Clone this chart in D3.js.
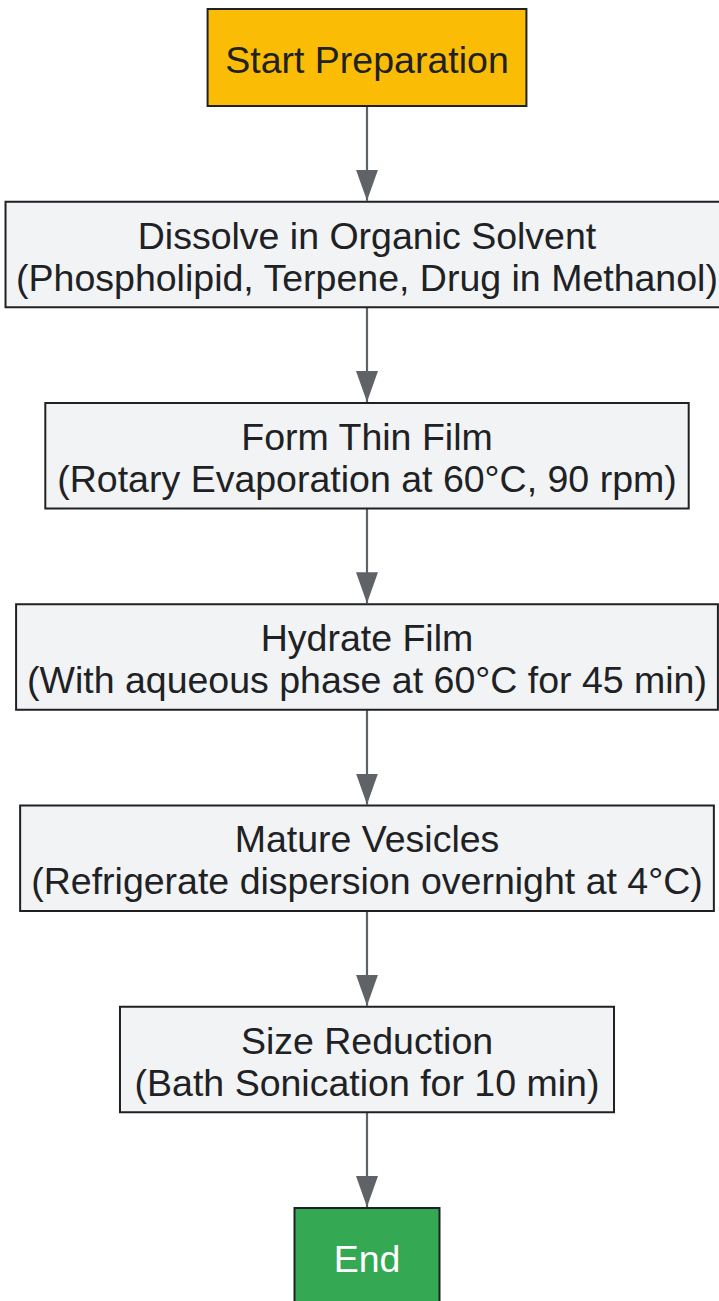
<!DOCTYPE html>
<html>
<head>
<meta charset="utf-8">
<script src="https://cdn.jsdelivr.net/npm/d3@7"></script>
<style>
  html, body { margin: 0; padding: 0; background: #fff; overflow: hidden; }
  svg { display: block; }
</style>
</head>
<body>
<svg id="chart"></svg>
<script>
// flowchart steps, top to bottom
const stepIds = ["start", "dissolve", "film", "hydrate", "mature", "size", "end"];
const stepLines = [
  ["Start Preparation"],
  ["Dissolve in Organic Solvent", "(Phospholipid, Terpene, Drug in Methanol)"],
  ["Form Thin Film", "(Rotary Evaporation at 60°C, 90 rpm)"],
  ["Hydrate Film", "(With aqueous phase at 60°C for 45 min)"],
  ["Mature Vesicles", "(Refrigerate dispersion overnight at 4°C)"],
  ["Size Reduction", "(Bath Sonication for 10 min)"],
  ["End"]
];
const stepKinds = ["start", "process", "process", "process", "process", "process", "end"];
const links = [
  ["start", "dissolve"], ["dissolve", "film"], ["film", "hydrate"],
  ["hydrate", "mature"], ["mature", "size"], ["size", "end"]
];

const width = 719, height = 1301;
const cx = 367;
const font = "'Liberation Sans', Arial, sans-serif";
const fontSize = 37.5, lineH = 42;
const padX = 22.5, padY = 21.5, minH = 97, minW = 145;
const gap = 95.75, top0 = 9;

const fills = { start: "#fbbc05", process: "#f1f3f4", end: "#34a853" };
const textColors = { start: "#202124", process: "#202124", end: "#ffffff" };

const svg = d3.select("#chart").attr("width", width).attr("height", height);

svg.append("defs").append("marker")
  .attr("id", "arrow")
  .attr("viewBox", "0 0 31 22")
  .attr("refX", 31)
  .attr("refY", 11)
  .attr("markerWidth", 31)
  .attr("markerHeight", 22)
  .attr("markerUnits", "userSpaceOnUse")
  .attr("orient", "auto")
  .append("path")
  .attr("d", "M0,0 L31,11 L0,22 Z")
  .attr("fill", "#5f6368");

// measure text for box sizes
const measure = svg.append("text")
  .style("font-family", font)
  .style("font-size", fontSize + "px");
function textWidth(s) {
  measure.text(s);
  return measure.node().getComputedTextLength();
}

let y = top0;
const nodes = stepIds.map((id, i) => {
  const lines = stepLines[i];
  const w = Math.max(minW, d3.max(lines, textWidth) * 0.966 + 2 * padX);
  const h = Math.max(minH, lines.length * lineH + padY);
  const n = { id, lines, kind: stepKinds[i], w, h, y0: y };
  y += h + gap;
  return n;
});
measure.remove();
const byId = new Map(nodes.map(d => [d.id, d]));

svg.append("g")
  .selectAll("line")
  .data(links)
  .join("line")
  .attr("x1", cx)
  .attr("x2", cx)
  .attr("y1", d => byId.get(d[0]).y0 + byId.get(d[0]).h)
  .attr("y2", d => byId.get(d[1]).y0 - 1)
  .attr("stroke", "#5f6368")
  .attr("stroke-width", 2.2)
  .attr("marker-end", "url(#arrow)");

const g = svg.append("g")
  .selectAll("g")
  .data(nodes)
  .join("g");

g.append("rect")
  .attr("x", d => cx - d.w / 2)
  .attr("y", d => d.y0)
  .attr("width", d => d.w)
  .attr("height", d => d.h)
  .attr("fill", d => fills[d.kind])
  .attr("stroke", "#202124")
  .attr("stroke-width", 2);

g.append("text")
  .attr("text-anchor", "middle")
  .style("font-family", font)
  .style("font-size", fontSize + "px")
  .attr("fill", d => textColors[d.kind])
  .each(function (d) {
    const t = d3.select(this);
    const first = d.y0 + d.h / 2 - (d.lines.length - 1) * lineH / 2;
    d.lines.forEach((s, i) => {
      t.append("tspan")
        .attr("x", cx)
        .attr("y", first + i * lineH)
        .attr("dy", "0.4em")
        .text(s);
    });
  });
</script>
</body>
</html>
